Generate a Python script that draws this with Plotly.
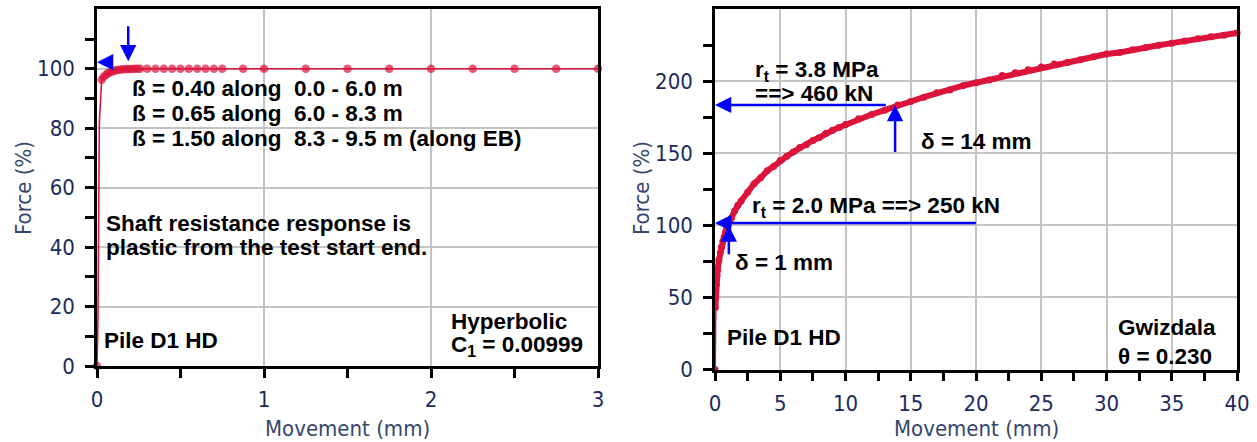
import plotly.graph_objects as go

W, H = 1257, 442

# ---------------- data ----------------
# Left panel: Hyperbolic fit (Movement mm, Force %)
left_x = [0, 0.006, 0.014, 0.028, 0.04, 0.054, 0.066, 0.078, 0.093, 0.108,
          0.123, 0.138, 0.153, 0.168, 0.183, 0.198, 0.213, 0.228, 0.243, 0.258,
          0.30, 0.35, 0.40, 0.45, 0.50, 0.55, 0.60, 0.65, 0.70, 0.75,
          0.875, 1.0, 1.25, 1.5, 1.75, 2.0, 2.25, 2.5, 2.75, 3.0]
left_y = [0, 16, 82, 96.3, 97.3, 98.0, 98.5, 98.8, 99.1, 99.4,
          99.55, 99.7, 99.8, 99.85, 99.9, 99.93, 99.95, 99.97, 99.98, 100,
          100, 100, 100, 100, 100, 100, 100, 100, 100, 100,
          100, 100, 100, 100, 100, 100, 100, 100, 100, 100]
left_has_marker = [1, 0, 0] + [1] * 37

# Right panel: Gwizdala fit (Movement mm, Force %)
right_x = [0, 0.025, 0.05, 0.1, 0.15, 0.2, 0.3, 0.4, 0.5, 0.6, 0.7, 0.8, 0.9, 1.0,
           1.25, 1.5, 1.75, 2.0,
           2.5, 3.0, 3.5, 4.0, 4.5, 5.0, 5.5, 6.0, 6.5, 7.0, 7.5, 8.0, 8.5, 9.0, 9.5, 10,
           11, 12, 13, 14, 15, 16, 17, 18, 19, 20, 21, 22, 23, 24, 25,
           26, 27, 28, 29, 30, 31, 32, 33, 34, 35, 36, 37, 38, 39, 40]
right_y = [0, 43, 50, 59, 65, 69, 76, 81, 85, 89, 92, 95, 98, 100,
           105, 110, 114, 117,
           123, 129, 133, 138, 141, 145, 148, 151, 154, 156, 159, 161, 164, 166, 168, 170,
           174, 177, 180, 183.5, 186, 189, 192, 194, 197, 199, 201, 204, 206, 208, 210,
           212, 213, 215, 217, 219, 220, 222, 223.5, 225, 226.5, 228, 229.5, 231, 232, 233.6]

left_xticks = [0, 1, 2, 3]
left_xminor = [0.5, 1.5, 2.5]
left_yticks = [0, 20, 40, 60, 80, 100]
left_yminor = [10, 30, 50, 70, 90, 110]
right_xticks = [0, 5, 10, 15, 20, 25, 30, 35, 40]
right_xminor = [2.5, 7.5, 12.5, 17.5, 22.5, 27.5, 32.5, 37.5]
right_yticks = [0, 50, 100, 150, 200]
right_yminor = [25, 75, 125, 175, 225]

# ---------------- styles ----------------
RED = "#dc143c"
BLUE = "#0000ff"
TICKC = "#1b2a5e"
TITLEC = "#34466e"
GRID = "#c4c4c4"
AXFONT = "DejaVu Sans Condensed, Liberation Sans Narrow, DejaVu Sans"
TXFONT = "Liberation Sans, Arial"
NB = "\u00a0"

fig = go.Figure()

fig.add_trace(go.Scatter(
    x=left_x, y=left_y, mode="lines+markers", xaxis="x", yaxis="y",
    line=dict(color=RED, width=1.6),
    marker=dict(color=RED, size=[8.5 if m else 0 for m in left_has_marker],
                line=dict(width=0)),
    cliponaxis=False, showlegend=False, hoverinfo="skip"))

fig.add_trace(go.Scatter(
    x=right_x[1:], y=right_y[1:], mode="lines", xaxis="x2", yaxis="y2",
    line=dict(color=RED, width=6), cliponaxis=False, showlegend=False, hoverinfo="skip"))
fig.add_trace(go.Scatter(
    x=right_x, y=right_y, mode="lines+markers", xaxis="x2", yaxis="y2",
    line=dict(color=RED, width=2), marker=dict(color=RED, size=7, line=dict(width=0)),
    cliponaxis=False, showlegend=False, hoverinfo="skip"))


def axis_common(tickvals, minorvals, standoff):
    return dict(
        tickmode="array", tickvals=tickvals,
        ticks="outside", ticklen=9, tickwidth=2.5, tickcolor="black",
        ticklabelstandoff=standoff,
        showline=True, linecolor="black", linewidth=2.5, mirror=True,
        showgrid=True, gridcolor=GRID, gridwidth=1.5, zeroline=False,
        tickfont=dict(family=AXFONT, size=22, color=TICKC),
        minor=dict(tickmode="array", tickvals=minorvals, ticks="outside",
                   ticklen=9, tickwidth=2.5, tickcolor="black", showgrid=False),
        automargin=False, fixedrange=True,
    )


fig.update_layout(
    width=W, height=H,
    margin=dict(l=0, r=0, t=0, b=0),
    paper_bgcolor="white", plot_bgcolor="white",
    showlegend=False,
    xaxis=dict(domain=[97 / W, 598 / W], anchor="y", range=[0, 3],
               **axis_common(left_xticks, left_xminor, 3)),
    yaxis=dict(domain=[1 - 366 / H, 1 - 9.3 / H], anchor="x", range=[0, 120],
               **axis_common(left_yticks, left_yminor, 6)),
    xaxis2=dict(domain=[715 / W, 1237 / W], anchor="y2", range=[0, 40],
                **axis_common(right_xticks, right_xminor, 3)),
    yaxis2=dict(domain=[1 - 369.5 / H, 1 - 9.3 / H], anchor="x2", range=[0, 250],
                **axis_common(right_yticks, right_yminor, 6)),
)

ann = []


def txt(text, x, y, xr, yr):
    ann.append(dict(text="<b>" + text + "</b>", x=x, y=y, xref=xr, yref=yr,
                    xanchor="left", yanchor="middle", showarrow=False,
                    font=dict(family=TXFONT, size=22.5, color="black")))


def arrow(x, y, ax, ay, xr, yr):
    ann.append(dict(text="", x=x, y=y, ax=ax, ay=ay, xref=xr, yref=yr,
                    axref=xr, ayref=yr, showarrow=True, arrowhead=2,
                    arrowsize=1.3, arrowwidth=2.5, arrowcolor=BLUE))


# left panel texts
txt("ß = 0.40 along " + NB + "0.0 - 6.0 m", 0.20, 93.3, "x", "y")
txt("ß = 0.65 along " + NB + "6.0 - 8.3 m", 0.20, 85.1, "x", "y")
txt("ß = 1.50 along " + NB + "8.3 - 9.5 m (along EB)", 0.20, 76.5, "x", "y")
txt("Shaft resistance response is", 0.04, 48.1, "x", "y")
txt("plastic from the test start end.", 0.04, 39.8, "x", "y")
txt("Pile D1 HD", 0.03, 8.7, "x", "y")
txt("Hyperbolic", 2.11, 15.1, "x", "y")
txt("C<sub>1</sub> = 0.00999", 2.11, 6.6, "x", "y")
arrow(0, 102.2, 0.097, 102.2, "x", "y")
arrow(0.187, 102.5, 0.187, 114.8, "x", "y")

# right panel texts
txt("r<sub>t</sub> = 3.8 MPa", 2.9, 207.0, "x2", "y2")
txt("==> 460 kN", 2.9, 191.5, "x2", "y2")
txt("δ = 14 mm", 15.6, 158.4, "x2", "y2")
txt("r<sub>t</sub> = 2.0 MPa ==> 250 kN", 2.7, 112.5, "x2", "y2")
txt("δ = 1 mm", 1.37, 74, "x2", "y2")
txt("Pile D1 HD", 0.75, 22, "x2", "y2")
txt("Gwizdala", 30.7, 29, "x2", "y2")
txt("θ = 0.230", 30.7, 9, "x2", "y2")
arrow(0, 183.6, 13.2, 183.6, "x2", "y2")
arrow(13.8, 183.6, 13.8, 150, "x2", "y2")
arrow(0, 101.6, 20.1, 101.6, "x2", "y2")
arrow(1.06, 100, 1.06, 79, "x2", "y2")

# axis titles
for (px, py, t, ang) in [(23, 188, "Force (%)", -90), (641, 188, "Force (%)", -90),
                         (347, 428, "Movement (mm)", 0), (976, 428, "Movement (mm)", 0)]:
    ann.append(dict(text=t, x=px / W, y=1 - py / H, xref="paper", yref="paper",
                    xanchor="center", yanchor="middle", showarrow=False, textangle=ang,
                    font=dict(family=AXFONT, size=22, color=TITLEC)))

fig.update_layout(annotations=ann)
fig.write_html("out.html")
